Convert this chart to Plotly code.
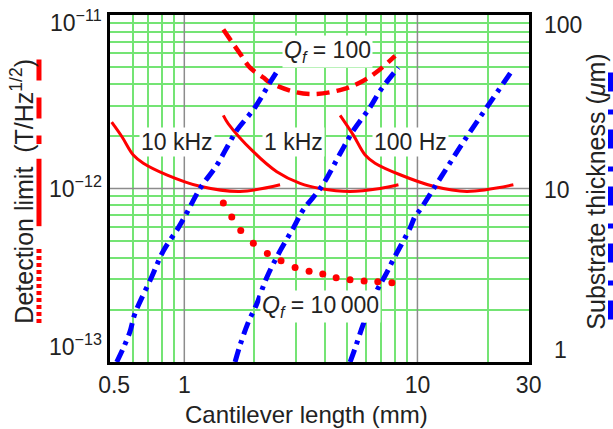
import math
import plotly.graph_objects as go

# ---------------- data ----------------
# Blue dash-dot: substrate thickness (um) vs cantilever length (mm), right axis
blue_10k_L = [0.513, 0.547, 0.585, 0.614, 0.725, 0.813, 0.942, 1.007, 1.168, 1.377, 1.571, 1.678, 2.012, 2.332, 2.532]
blue_10k_t = [1.0, 1.20, 1.50, 1.90, 3.10, 4.37, 5.93, 6.92, 10.0, 13.6, 18.6, 21.6, 29.4, 40.8, 48.6]
blue_1k_L = [1.651, 1.734, 1.883, 2.045, 2.258, 2.575, 2.937, 3.241, 3.889, 4.66, 5.313, 6.266, 6.918, 8.287]
blue_1k_t = [1.0, 1.25, 1.70, 2.16, 3.07, 4.37, 5.93, 7.55, 10.3, 15.9, 21.6, 29.4, 36.6, 49.8]
blue_100_L = [5.143, 5.402, 5.865, 6.696, 7.266, 7.889, 9.305, 9.774, 10.27, 11.91, 13.59, 15.76, 19.85, 25.43]
blue_100_t = [1.0, 1.20, 1.66, 2.58, 3.14, 3.91, 5.93, 6.92, 7.55, 10.3, 13.6, 18.6, 29.4, 47.7]

# Red solid: detection limit (T/Hz^1/2), Qf = 1000
red_10k_L = [0.488, 0.541, 0.604, 0.667, 0.840, 1.168, 1.734, 2.575]
red_10k_B = [2.41e-12, 1.98e-12, 1.56e-12, 1.40e-12, 1.20e-12, 1.03e-12, 0.962e-12, 1.05e-12]
red_1k_L = [1.47, 1.545, 1.977, 2.493, 3.138, 3.823, 5.14, 6.92, 8.29]
red_1k_B = [2.64e-12, 2.36e-12, 1.63e-12, 1.25e-12, 1.07e-12, 1.00e-12, 0.962e-12, 1.00e-12, 1.05e-12]
red_100_L = [4.66, 5.31, 5.965, 6.58, 8.43, 11.71, 16.29, 25.8]
red_100_B = [2.64e-12, 2.03e-12, 1.56e-12, 1.40e-12, 1.20e-12, 1.03e-12, 0.962e-12, 1.05e-12]

# Red dashed: Qf = 100
q100_L = [1.47, 1.623, 1.734, 1.914, 2.183, 2.332, 3.037, 3.70, 4.814, 5.865, 6.92, 8.02]
q100_B = [8.24e-12, 6.80e-12, 5.99e-12, 4.97e-12, 4.36e-12, 4.08e-12, 3.58e-12, 3.51e-12, 3.74e-12, 4.18e-12, 4.87e-12, 5.81e-12]

# Red dotted: Qf = 10 000
q10k_L = [1.47, 1.598, 1.746, 1.977, 2.271, 2.60, 2.987, 3.43, 3.926, 4.48, 5.14, 5.905, 6.76, 7.77]
q10k_B = [8.24e-13, 6.86e-13, 5.73e-13, 4.83e-13, 4.22e-13, 3.83e-13, 3.51e-13, 3.33e-13, 3.21e-13, 3.06e-13, 2.98e-13, 2.93e-13, 2.90e-13, 2.86e-13]

# Axes
x_range = [0.48, 30.1]
y_range = [1e-13, 1e-11]
y2_range = [1, 100]
x_tick_vals = [0.5, 1, 10, 30]
x_tick_text = ["0.5", "1", "10", "30"]
x_minor_vals = [0.6, 0.7, 0.8, 0.9, 2, 3, 4, 5, 6, 7, 8, 9, 20]
y_minor_vals = [2e-13, 3e-13, 4e-13, 5e-13, 6e-13, 7e-13, 8e-13, 9e-13,
                2e-12, 3e-12, 4e-12, 5e-12, 6e-12, 7e-12, 8e-12, 9e-12]
major_x = [1, 10]
major_y = [1e-12]
y_tick_vals = [1e-11, 1e-12, 1e-13]
y_tick_text = ["10<sup>\u221211</sup>", "10<sup>\u221212</sup>", "10<sup>\u221213</sup>"]
y2_tick_vals = [100, 10, 1]
y2_tick_text = ["100", "10", "1"]

# label nudges in screen pixels (positive = down / right)
y_tick_down = [6, -2, -17]
y2_tick_down = [10, 1, -12]
y2_tick_right = [34, 28, 31]

FONT = "Liberation Sans, Arial, sans-serif"
RED = "#ff0000"
BLUE = "#0000ff"
GREEN = "#74e474"
GRAY = "#8c8c8c"

fig = go.Figure()

# major gray reference lines
for xv in major_x:
    fig.add_trace(go.Scatter(x=[xv, xv], y=y_range, mode="lines",
                             line=dict(color=GRAY, width=1.5), hoverinfo="skip"))
for yv in major_y:
    fig.add_trace(go.Scatter(x=x_range, y=[yv, yv], mode="lines",
                             line=dict(color=GRAY, width=1.5), hoverinfo="skip"))

# red curves
for L, B in [(red_10k_L, red_10k_B), (red_1k_L, red_1k_B), (red_100_L, red_100_B)]:
    fig.add_trace(go.Scatter(x=L, y=B, mode="lines",
                             line=dict(color=RED, width=3, shape="spline")))
fig.add_trace(go.Scatter(x=q100_L, y=q100_B, mode="lines",
                         line=dict(color=RED, width=4.5, dash="13px,7px", shape="spline")))
fig.add_trace(go.Scatter(x=q10k_L, y=q10k_B, mode="markers",
                         marker=dict(color=RED, size=7)))

# blue thickness curves (right axis)
for L, t in [(blue_10k_L, blue_10k_t), (blue_1k_L, blue_1k_t), (blue_100_L, blue_100_t)]:
    fig.add_trace(go.Scatter(x=L, y=t, yaxis="y2", mode="lines",
                             line=dict(color=BLUE, width=5, dash="13px,6px,4px,6px", shape="spline")))

annotations = []
# y tick labels (left)
for v, txt, dn in zip(y_tick_vals, y_tick_text, y_tick_down):
    annotations.append(dict(xref="paper", yref="y", x=0, y=math.log10(v), text=txt,
                            xanchor="right", yanchor="middle", xshift=-6, yshift=-dn,
                            showarrow=False, font=dict(size=23, color="#222")))
# y2 tick labels (right)
for v, txt, dn, rt in zip(y2_tick_vals, y2_tick_text, y2_tick_down, y2_tick_right):
    annotations.append(dict(xref="paper", yref="y2", x=1, y=math.log10(v), text=txt,
                            xanchor="center", yanchor="middle", xshift=rt, yshift=-dn,
                            showarrow=False, font=dict(size=23, color="#222")))

# axis titles
annotations.append(dict(xref="paper", yref="paper", x=0.468, y=-0.151,
                        text="Cantilever length (mm)", showarrow=False,
                        xanchor="center", yanchor="middle", font=dict(size=24, color="#222")))
annotations.append(dict(xref="paper", yref="paper", x=-0.21, y=0.491, textangle=-90,
                        text="Detection limit  (T/Hz<sup>1/2</sup>)", showarrow=False,
                        xanchor="center", yanchor="middle", font=dict(size=25, color="#222")))
annotations.append(dict(xref="paper", yref="paper", x=1.16, y=0.491, textangle=-90,
                        text="Substrate thickness (<i>\u03bc</i>m)", showarrow=False,
                        xanchor="center", yanchor="middle", font=dict(size=25, color="#222")))

# in-plot labels
labels = [
    ("10 kHz", 0.161, 0.634),
    ("1 kHz", 0.439, 0.634),
    ("100 Hz", 0.7177, 0.634),
    ("<i>Q</i><sub><i>f</i></sub> = 100", 0.519, 0.894),
    ("<i>Q</i><sub><i>f</i></sub> = 10\u2009000", 0.503, 0.16),
]
for txt, xp, yp in labels:
    annotations.append(dict(xref="paper", yref="paper", x=xp, y=yp, text=txt,
                            showarrow=False, xanchor="center", yanchor="middle",
                            bgcolor="white", borderpad=1,
                            font=dict(size=23, color="#222")))

# legend-like line samples beside the axis titles
shapes = [
    dict(type="line", xref="paper", yref="paper", x0=-0.1695, x1=-0.1695, y0=0.8714, y1=0.6286,
         line=dict(color=RED, width=5, dash="21px,17px")),
    dict(type="line", xref="paper", yref="paper", x0=-0.1695, x1=-0.1695, y0=0.5857, y1=0.3914,
         line=dict(color=RED, width=5)),
    dict(type="line", xref="paper", yref="paper", x0=-0.1695, x1=-0.1695, y0=0.3257, y1=0.1057,
         line=dict(color=RED, width=5, dash="4px,3px")),
    dict(type="line", xref="paper", yref="paper", x0=1.1969, x1=1.1969, y0=0.8343, y1=0.1114,
         line=dict(color=BLUE, width=7, dash="19px,18px,5px,15px")),
]

fig.update_layout(
    width=613, height=429, autosize=False,
    margin=dict(l=110, r=84, t=12, b=67),
    paper_bgcolor="white", plot_bgcolor="white",
    showlegend=False,
    font=dict(family=FONT, color="#222"),
    xaxis=dict(type="log", range=[math.log10(x_range[0]), math.log10(x_range[1])],
               tickvals=x_tick_vals, ticktext=x_tick_text, ticks="",
               tickfont=dict(size=23), showgrid=False, zeroline=False,
               showline=True, linecolor="black", linewidth=3, mirror=True,
               minor=dict(tickmode="array", tickvals=x_minor_vals, showgrid=True,
                          gridcolor=GREEN, gridwidth=1.5, ticks="")),
    yaxis=dict(type="log", range=[math.log10(y_range[0]), math.log10(y_range[1])],
               showticklabels=False, ticks="", showgrid=False, zeroline=False,
               showline=True, linecolor="black", linewidth=3, mirror=True,
               minor=dict(tickmode="array", tickvals=y_minor_vals, showgrid=True,
                          gridcolor=GREEN, gridwidth=1.5, ticks="")),
    yaxis2=dict(type="log", range=[math.log10(y2_range[0]), math.log10(y2_range[1])],
                overlaying="y", side="right", showticklabels=False, ticks="",
                showgrid=False, zeroline=False, showline=False),
    annotations=annotations,
    shapes=shapes,
)

fig.write_html("out.html")
